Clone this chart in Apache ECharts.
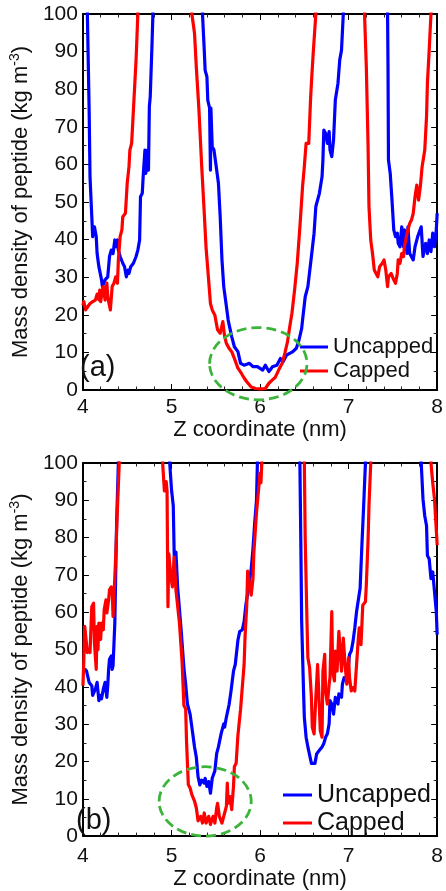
<!DOCTYPE html>
<html>
<head>
<meta charset="utf-8">
<script src="https://cdn.jsdelivr.net/npm/echarts@6/dist/echarts.min.js"></script>
<style>
html,body{margin:0;padding:0;background:#fff;}
#chart{width:446px;height:891px;}
</style>
</head>
<body>
<div id="chart"></div>
<script>
// ---------- data (z in nm, density in kg m^-3; 130 = off-scale above the axis) ----------
const xTicks = [4, 5, 6, 7, 8];
const yTicks = [0, 10, 20, 30, 40, 50, 60, 70, 80, 90, 100];
const seriesNames = ['Uncapped', 'Capped'];

const uncappedA = [
[4.04,130],[4.05,100],[4.07,74.5],[4.08,56.7],[4.10,46.1],[4.11,40.8],[4.13,43.4],[4.15,40.8],[4.16,36.3],[4.18,32.8],[4.21,29.3],[4.22,27.5],[4.25,29.3],[4.28,30.1],[4.30,35.5],[4.32,37.2],[4.34,36.3],[4.36,39.9],[4.37,38.1],[4.39,39.9],[4.40,37.2],[4.42,35.5],[4.45,33.7],[4.47,32.8],[4.49,30.1],[4.51,31.9],[4.52,31],[4.54,32.8],[4.57,33.7],[4.60,35.5],[4.62,37.2],[4.64,39.9],[4.65,51.4],[4.67,52.3],[4.68,56.7],[4.70,63.8],[4.71,57.6],[4.73,63.8],[4.74,58.5],[4.75,75.4],[4.76,78],[4.78,92],[4.79,100],[4.80,130],
[5.34,130],[5.35,100],[5.37,90.4],[5.38,85],[5.40,83.3],[5.41,77],[5.43,75],[5.44,58.5],[5.445,75],[5.46,64.7],[5.48,63.8],[5.50,60.3],[5.53,55],[5.55,46],[5.57,34.6],[5.59,27.5],[5.61,24],[5.64,18.6],[5.68,14.2],[5.71,11.5],[5.75,10.2],[5.78,7.1],[5.82,6.6],[5.88,7.1],[5.92,6.2],[5.97,6.2],[6.03,5.3],[6.06,6.6],[6.10,4.9],[6.14,6.2],[6.19,6.6],[6.23,8.4],[6.26,7.5],[6.30,9.3],[6.34,9.8],[6.37,10.2],[6.41,11.1],[6.44,13.3],[6.47,16.4],[6.48,18.6],[6.51,24.8],[6.54,27.5],[6.58,35.5],[6.61,41.7],[6.63,48.8],[6.67,52.3],[6.70,56.7],[6.71,61.2],[6.72,69.1],[6.74,68.3],[6.76,65.6],[6.78,68.7],[6.79,63.8],[6.81,62.1],[6.83,66.5],[6.85,77.1],[6.88,81.6],[6.90,87.8],[6.92,90.4],[6.94,100],[6.95,130],
[7.43,130],[7.44,100],[7.445,86],[7.45,61.2],[7.47,57.6],[7.49,50.5],[7.51,42.6],[7.53,40.8],[7.55,41.7],[7.56,39],[7.58,38.1],[7.60,43.4],[7.62,38.1],[7.63,42.6],[7.66,36.3],[7.67,43.4],[7.69,36.3],[7.73,34.6],[7.75,38.1],[7.78,40.8],[7.82,43.4],[7.84,35.5],[7.87,39],[7.89,36.3],[7.91,39.9],[7.93,36.8],[7.95,41.7],[7.97,38.1],[7.99,42.6],[8.00,47]
];

const cappedA = [
[4.00,22.5],[4.01,23.5],[4.03,21.3],[4.05,22],[4.08,23],[4.11,23.5],[4.14,23.9],[4.16,25.5],[4.18,24],[4.19,26.6],[4.20,23.5],[4.22,26.6],[4.23,27.5],[4.25,23.9],[4.27,28.4],[4.28,25],[4.29,23.5],[4.31,21.3],[4.33,27.5],[4.35,28.4],[4.37,30.1],[4.39,28.4],[4.40,34.6],[4.42,40.8],[4.44,42.6],[4.45,46.1],[4.48,47],[4.50,55],[4.52,59.4],[4.53,63.8],[4.55,65.6],[4.57,74.5],[4.60,87.8],[4.62,100],[4.63,130],
[5.22,130],[5.23,100],[5.25,96.6],[5.26,94.9],[5.28,86],[5.31,74.5],[5.34,60],[5.37,47],[5.39,38],[5.42,29],[5.44,23],[5.46,21.3],[5.49,19.9],[5.51,17.3],[5.52,16],[5.55,15.1],[5.58,18.2],[5.60,14.2],[5.62,12.4],[5.65,11.1],[5.68,10.2],[5.71,8.4],[5.75,5.8],[5.79,4.4],[5.82,3.2],[5.85,2.2],[5.90,0.8],[5.95,0.4],[6.01,0.3],[6.06,0.4],[6.10,1.8],[6.14,2.7],[6.17,3.3],[6.21,5.3],[6.25,7.1],[6.28,9.8],[6.31,12.8],[6.33,16],[6.36,20.4],[6.39,26.6],[6.42,33.7],[6.45,43.4],[6.47,50.5],[6.48,54.1],[6.50,59.4],[6.52,65.6],[6.55,65.6],[6.57,77.1],[6.58,81.6],[6.60,89.5],[6.63,100],[6.64,130],
[7.17,130],[7.18,100],[7.20,86],[7.22,64.7],[7.23,48.8],[7.25,39.9],[7.27,36.3],[7.29,31.9],[7.31,31],[7.33,30.1],[7.35,32.8],[7.38,33.7],[7.40,34.6],[7.42,31.9],[7.44,27.5],[7.45,30.1],[7.48,31],[7.51,29.3],[7.53,28.4],[7.55,31],[7.56,34.6],[7.58,33.7],[7.60,36.3],[7.62,35.5],[7.63,38.1],[7.66,41.7],[7.69,44.3],[7.71,45.2],[7.73,47],[7.75,51.4],[7.77,54.5],[7.79,50.5],[7.81,54.1],[7.83,59.4],[7.86,63.8],[7.88,72.7],[7.89,81.6],[7.91,90.4],[7.93,100],[7.94,130],[8.00,130]
];

const uncappedB = [
[4.00,44.7],[4.01,44.7],[4.04,44.3],[4.07,41.2],[4.10,40.3],[4.11,37.7],[4.14,39.4],[4.16,41.2],[4.18,36.3],[4.19,37.7],[4.21,36.8],[4.23,39.4],[4.25,41.2],[4.27,37.2],[4.28,40.3],[4.29,44.7],[4.30,47.4],[4.32,48.3],[4.33,44.7],[4.34,45.6],[4.36,57.1],[4.37,70.4],[4.38,83.6],[4.40,100],[4.41,130],
[4.97,130],[4.98,100],[5.00,92.9],[5.02,88.5],[5.03,76.1],[5.04,69],[5.05,76.1],[5.07,66.4],[5.08,63.7],[5.11,54.9],[5.14,45.1],[5.16,40.7],[5.18,35.4],[5.21,32.7],[5.23,29.2],[5.26,23.9],[5.28,21.2],[5.30,15.9],[5.32,13.7],[5.34,15],[5.37,14.2],[5.38,15.5],[5.40,13.3],[5.42,14.6],[5.44,11.5],[5.46,15.5],[5.49,17.5],[5.51,22.1],[5.53,23.9],[5.56,27.4],[5.59,30.1],[5.60,29.2],[5.62,31.9],[5.65,35.2],[5.67,38.5],[5.70,44.2],[5.72,46],[5.75,52.5],[5.77,54.8],[5.80,55.3],[5.82,57.5],[5.84,62],[5.87,66.5],[5.90,71.5],[5.92,77],[5.94,84.1],[5.96,90],[5.97,100],[5.98,130],
[6.44,130],[6.45,100],[6.46,79.6],[6.47,57.5],[6.49,39.8],[6.50,31.9],[6.52,26.5],[6.54,23.9],[6.56,23.5],[6.58,19.5],[6.60,19.9],[6.62,19.5],[6.64,22.1],[6.67,23],[6.70,23.9],[6.72,24.8],[6.74,26.5],[6.76,27.4],[6.78,30.1],[6.79,36.3],[6.81,35.4],[6.83,32.7],[6.85,37.2],[6.88,35.4],[6.89,38.1],[6.92,37.2],[6.93,40.7],[6.95,42.5],[6.98,41.6],[7.00,46],[7.01,48.7],[7.03,49.6],[7.05,52.2],[7.07,55.8],[7.09,60.2],[7.11,60.2],[7.13,66.4],[7.15,77.9],[7.17,88.5],[7.19,100],[7.20,130],
[7.81,130],[7.82,100],[7.84,90.3],[7.86,85.8],[7.88,83.2],[7.89,75.2],[7.91,74.3],[7.93,69],[7.95,70.8],[7.97,65.5],[7.99,60.2],[8.00,54]
];

const cappedB = [
[4.00,40.3],[4.01,47],[4.02,56.2],[4.05,49.2],[4.07,50],[4.08,49.2],[4.10,61.5],[4.12,62.4],[4.13,51.8],[4.15,44.7],[4.16,56.2],[4.17,50],[4.18,57.1],[4.20,52.7],[4.21,57.1],[4.23,55.3],[4.24,60.7],[4.26,63.3],[4.27,59.8],[4.29,63.3],[4.30,66],[4.32,66.8],[4.33,66],[4.34,58.9],[4.35,64.2],[4.37,74.8],[4.39,88.1],[4.41,100],[4.42,130],
[4.89,130],[4.90,100],[4.92,92.5],[4.94,95],[4.95,92.5],[4.96,61.5],[4.97,75.7],[4.99,70],[5.01,66.8],[5.03,74.8],[5.05,66],[5.09,57.1],[5.12,46.5],[5.14,35],[5.16,34.1],[5.17,25.3],[5.19,13.8],[5.21,12.9],[5.23,11.1],[5.26,9.4],[5.28,7.6],[5.30,4.1],[5.33,5.3],[5.35,3.5],[5.37,6.2],[5.39,3.5],[5.42,5.3],[5.44,3.1],[5.47,5.3],[5.49,3.5],[5.51,7.5],[5.52,8.8],[5.54,5.3],[5.57,3.5],[5.59,5.3],[5.62,8],[5.63,14.2],[5.64,8.8],[5.66,10.6],[5.68,7.1],[5.70,13.3],[5.71,18.6],[5.73,19.5],[5.75,27],[5.78,34],[5.81,43],[5.82,46],[5.83,53.1],[5.85,62],[5.86,71],[5.88,68],[5.90,64.6],[5.92,69],[5.93,76],[5.96,86.7],[5.99,94.7],[6.00,97.3],[6.01,94.7],[6.02,100],[6.03,130],
[6.49,130],[6.50,100],[6.51,79.6],[6.53,57.5],[6.54,47.8],[6.56,45.1],[6.58,37.2],[6.59,29.2],[6.61,27.4],[6.63,37.2],[6.65,46],[6.67,34.5],[6.68,28.3],[6.70,26.5],[6.71,44.2],[6.73,48.7],[6.74,38.9],[6.76,35.4],[6.78,40.7],[6.79,42.5],[6.81,60.2],[6.82,44.2],[6.84,41.6],[6.85,49.6],[6.87,44.2],[6.89,54.9],[6.90,51.3],[6.92,44.2],[6.94,53.1],[6.96,46],[6.98,40.7],[7.00,47.8],[7.01,42.5],[7.03,38.9],[7.05,39.8],[7.07,38.9],[7.09,38.9],[7.11,53.1],[7.12,55.8],[7.14,51.3],[7.16,61.9],[7.19,62.8],[7.20,67.3],[7.22,79.6],[7.23,88.5],[7.25,100],[7.26,130],
[7.92,130],[7.93,100],[7.95,94.7],[7.97,90.3],[7.99,90.3],[8.00,78]
];

// highlight ellipses: [centre z, centre density, half-width (nm), half-height (kg m^-3)]
const ellipseA = [[5.98, 7.0, 0.55, 9.6]];
const ellipseB = [[5.38, 9.3, 0.52, 9.3]];

// ---------- chart ----------
const FONT = '"Liberation Sans", Arial, Helvetica, sans-serif';
const BLUE = '#0000ff', RED = '#ff0000', GREEN = '#3cb43c', INK = '#111';

function xAxisCfg(gi, pos, labelMargin, nameGap) {
  const bottom = pos === 'bottom';
  return {
    type: 'value', gridIndex: gi, position: pos,
    min: xTicks[0], max: xTicks[xTicks.length - 1], interval: xTicks[1] - xTicks[0],
    axisLine: {show: true, onZero: false, lineStyle: {color: '#000', width: 2}},
    axisTick: {show: true, inside: true, length: 6, lineStyle: {color: '#000', width: 1}},
    minorTick: {show: true, splitNumber: 5, length: 3.5, lineStyle: {color: '#222', width: 1}},
    splitLine: {show: false},
    axisLabel: {show: bottom, fontSize: 21, color: INK, fontFamily: FONT, margin: labelMargin},
    name: bottom ? 'Z coordinate (nm)' : '',
    nameLocation: 'middle', nameGap: nameGap,
    nameTextStyle: {fontSize: 22, color: INK, fontFamily: FONT}
  };
}
function yAxisCfg(gi, pos, nameGap) {
  const left = pos === 'left';
  return {
    type: 'value', gridIndex: gi, position: pos,
    min: yTicks[0], max: yTicks[yTicks.length - 1], interval: yTicks[1] - yTicks[0],
    axisLine: {show: true, onZero: false, lineStyle: {color: '#000', width: 2}},
    axisTick: {show: true, inside: true, length: 6, lineStyle: {color: '#000', width: 1}},
    minorTick: {show: true, splitNumber: 2, length: 3.5, lineStyle: {color: '#222', width: 1}},
    splitLine: {show: false},
    axisLabel: {show: left, fontSize: 21, color: INK, fontFamily: FONT, margin: 5},
    name: left ? '{t|Mass density of peptide (kg m}{s|-3}{t|)}' : '',
    nameLocation: 'middle', nameGap: nameGap, nameRotate: 90,
    nameTextStyle: {
      color: INK, fontFamily: FONT,
      rich: {
        t: {fontSize: 22, color: INK, fontFamily: FONT, lineHeight: 26},
        s: {fontSize: 14, color: INK, fontFamily: FONT, lineHeight: 14, verticalAlign: 'top'}
      }
    }
  };
}
function lineSeries(name, color, data, gi) {
  return {
    name: name, type: 'line', data: data,
    xAxisIndex: gi * 2, yAxisIndex: gi * 2,
    showSymbol: false, symbol: 'none', clip: true, animation: false,
    lineStyle: {color: color, width: 3.2, join: 'round'},
    itemStyle: {color: color}, z: 3
  };
}
function ellipseSeries(data, gi) {
  return {
    type: 'custom', data: data, xAxisIndex: gi * 2, yAxisIndex: gi * 2,
    clip: false, silent: true, z: 4, animation: false,
    encode: {x: 0, y: 1},
    renderItem: function (params, api) {
      const c = api.coord([api.value(0), api.value(1)]);
      const s = api.size([api.value(2), api.value(3)]);
      return {
        type: 'ellipse',
        shape: {cx: c[0], cy: c[1], rx: s[0], ry: s[1]},
        style: {fill: null, stroke: GREEN, lineWidth: 2.8, lineDash: [10, 5]}
      };
    }
  };
}

const chart = echarts.init(document.getElementById('chart'), null, {renderer: 'canvas'});
chart.setOption({
  animation: false,
  backgroundColor: '#fff',
  grid: [
    {left: 74, top: 14, width: 364, height: 376, containLabel: false},
    {left: 74, top: 463, width: 364, height: 377, containLabel: false}
  ],
  xAxis: [xAxisCfg(0, 'bottom', 7, 17), xAxisCfg(0, 'top', 6, 0),
          xAxisCfg(1, 'bottom', 10, 28), xAxisCfg(1, 'top', 6, 0)],
  yAxis: [yAxisCfg(0, 'left', 33), yAxisCfg(0, 'right', 0),
          yAxisCfg(1, 'left', 33), yAxisCfg(1, 'right', 0)],
  title: [
    {text: '(a)', left: 80, top: 353, textStyle: {fontSize: 29, fontWeight: 'normal', color: INK, fontFamily: FONT}, padding: 0},
    {text: '(b)', left: 76, top: 806, textStyle: {fontSize: 29, fontWeight: 'normal', color: INK, fontFamily: FONT}, padding: 0}
  ],
  legend: [
    {data: seriesNames, orient: 'vertical', left: 300, top: 335, padding: 0,
     icon: 'rect', itemWidth: 28, itemHeight: 3, itemGap: 0, itemTextGap: 2, selectedMode: false,
     textStyle: {fontSize: 22, color: INK, fontFamily: FONT, lineHeight: 24}},
    {data: seriesNames, orient: 'vertical', left: 283, top: 781, padding: 0,
     icon: 'rect', itemWidth: 29, itemHeight: 3, itemGap: 0, itemTextGap: 5, selectedMode: false,
     textStyle: {fontSize: 25, color: INK, fontFamily: FONT, lineHeight: 28}}
  ],
  series: [
    lineSeries(seriesNames[0], BLUE, uncappedA, 0),
    lineSeries(seriesNames[1], RED, cappedA, 0),
    lineSeries(seriesNames[0], BLUE, uncappedB, 1),
    lineSeries(seriesNames[1], RED, cappedB, 1),
    ellipseSeries(ellipseA, 0),
    ellipseSeries(ellipseB, 1)
  ]
});
</script>
</body>
</html>
